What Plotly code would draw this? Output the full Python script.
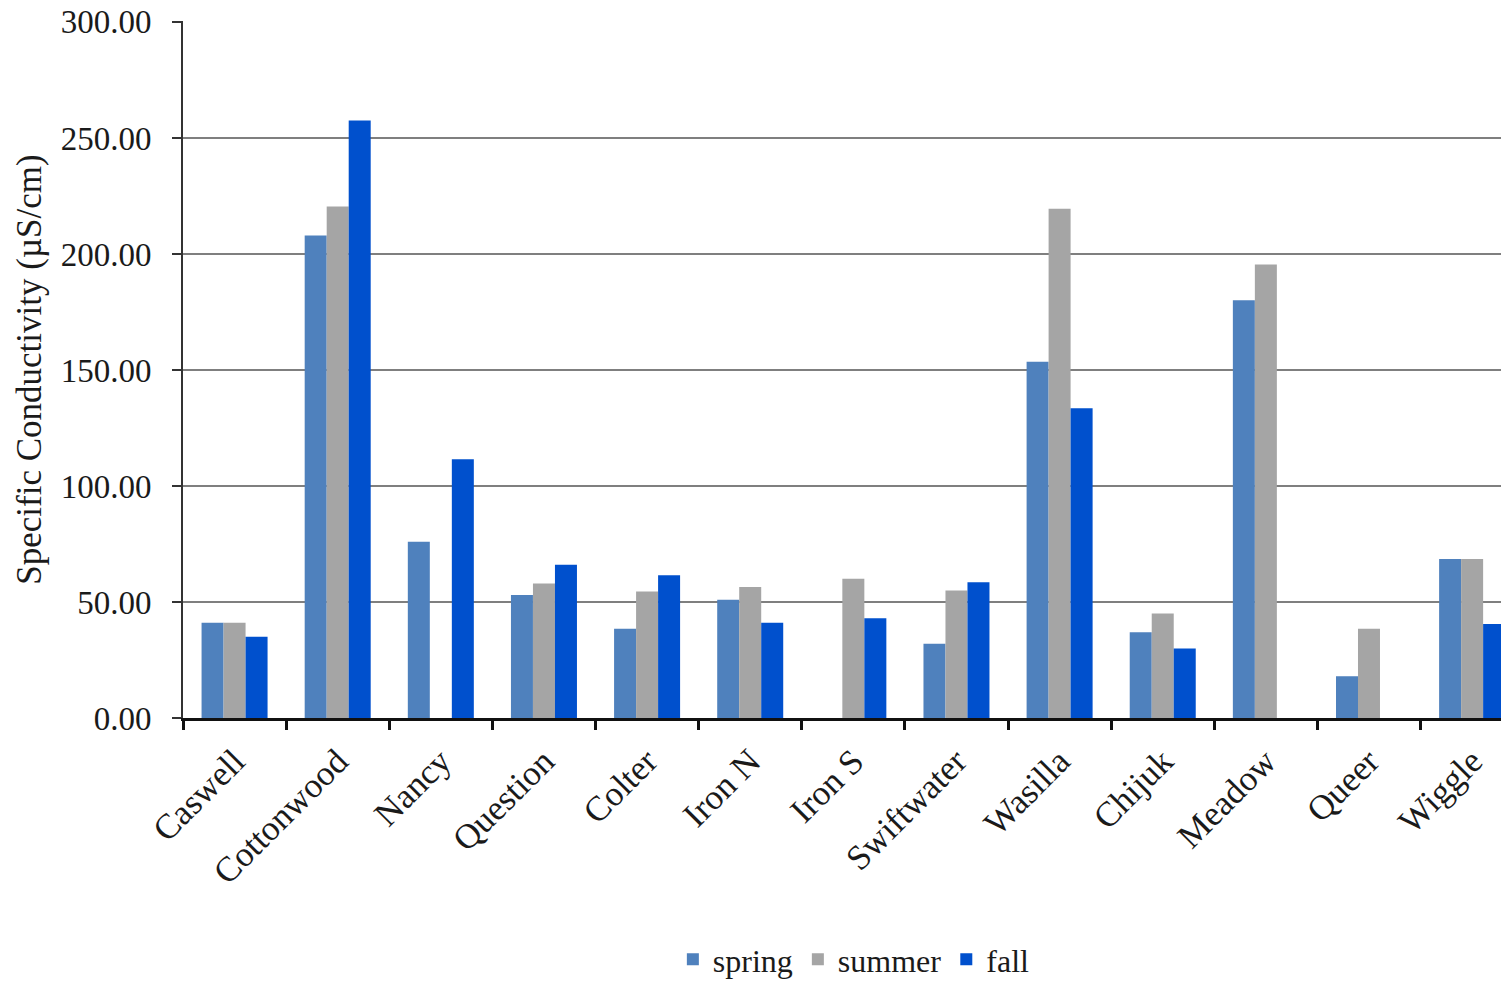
import plotly.graph_objects as go

sites = ["Caswell", "Cottonwood", "Nancy", "Question", "Colter", "Iron N", "Iron S",
         "Swiftwater", "Wasilla", "Chijuk", "Meadow", "Queer", "Wiggle"]
spring = [41, 208, 76, 53, 38.5, 51, None, 32, 153.5, 37, 180, 18, 68.5]
summer = [41, 220.5, None, 58, 54.5, 56.5, 60, 55, 219.5, 45, 195.5, 38.5, 68.5]
fall = [35, 257.5, 111.5, 66, 61.5, 41, 43, 58.5, 133.5, 30, None, None, 40.5]

series_names = ["spring", "summer", "fall"]
colors = ["#4F81BD", "#A5A5A5", "#0050CD"]

font_family = "Liberation Serif, Times New Roman, serif"
txt = "#1a1a1a"

fig = go.Figure()
for name, vals, col in zip(series_names, [spring, summer, fall], colors):
    fig.add_trace(go.Bar(x=sites, y=vals, name=name, marker=dict(color=col, line=dict(width=0))))

fig.update_layout(
    width=1493, height=979,
    margin=dict(l=175, r=0, t=13, b=269, autoexpand=False),
    paper_bgcolor="white", plot_bgcolor="white",
    barmode="group", bargap=0.36, bargroupgap=0,
    font=dict(family=font_family, size=33, color=txt),
    legend=dict(orientation="h", x=0.509, xanchor="center",
                yref="container", y=0.0, yanchor="bottom",
                font=dict(size=32, color=txt), itemwidth=30, tracegroupgap=0),
    showlegend=True,
)
fig.update_xaxes(
    type="category", range=[-0.5, 12.28], automargin=False,
    showline=True, linecolor="#111111", linewidth=2.5,
    ticks="outside", tickson="boundaries", ticklen=9, tickwidth=2.5, tickcolor="#111111",
    ticklabelstandoff=6,
    tickangle=-45, tickfont=dict(size=35, color=txt),
    showgrid=False,
)
fig.update_yaxes(
    range=[0, 300.4], dtick=50, tickformat=".2f", automargin=False,
    ticklabeloverflow="allow",
    showline=True, linecolor="#333333", linewidth=2,
    ticks="outside", ticklen=9, tickwidth=2, tickcolor="#333333",
    ticklabelstandoff=14,
    showgrid=True, gridcolor="#7f7f7f", gridwidth=2,
    zeroline=False,
    tickfont=dict(size=33, color=txt),
    title=dict(text="Specific Conductivity (µS/cm)", font=dict(size=35, color=txt), standoff=8),
)

fig.write_html("out.html")
